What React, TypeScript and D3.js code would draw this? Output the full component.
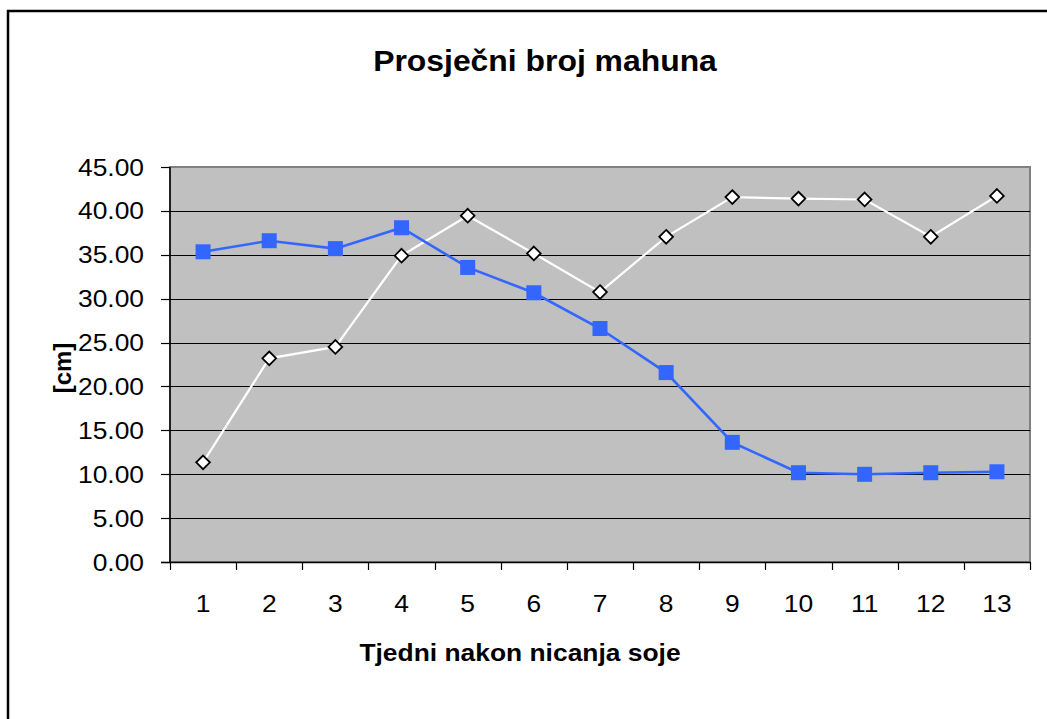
import { useEffect, useRef } from "react";
import * as d3 from "d3";

const weeks = ["1", "2", "3", "4", "5", "6", "7", "8", "9", "10", "11", "12", "13"];
const blueValues = [35.34, 36.6, 35.7, 38.08, 33.56, 30.67, 26.6, 21.58, 13.63, 10.17, 9.99, 10.17, 10.28];
const whiteValues = [11.35, 23.2, 24.5, 34.9, 39.45, 35.15, 30.75, 37.05, 41.57, 41.4, 41.3, 37.05, 41.7];
const yTicks = [0, 5, 10, 15, 20, 25, 30, 35, 40, 45];

const title = "Prosječni broj mahuna";
const xTitle = "Tjedni nakon nicanja soje";
const yTitle = "[cm]";

const App = () => {
  const ref = useRef<SVGSVGElement>(null);

  useEffect(() => {
    const width = 1047;
    const height = 719;
    const plot = { left: 170, right: 1030, top: 167, bottom: 562 };
    const font = "Arial, 'Liberation Sans', sans-serif";
    const stretch = 1.1; // the original is slightly wider than tall

    const svg = d3.select(ref.current).attr("width", width).attr("height", height);
    svg.selectAll("*").remove();

    // outer chart frame
    svg
      .append("rect")
      .attr("x", 8)
      .attr("y", 11)
      .attr("width", 1200)
      .attr("height", 900)
      .attr("fill", "#fff")
      .attr("stroke", "#000")
      .attr("stroke-width", 2.5);

    const xScale = d3.scaleBand().domain(weeks).range([plot.left, plot.right]).paddingInner(0).paddingOuter(0);
    const yScale = d3.scaleLinear().domain([0, 45]).range([plot.bottom, plot.top]);

    // plot background
    svg
      .append("rect")
      .attr("x", plot.left)
      .attr("y", plot.top)
      .attr("width", plot.right - plot.left)
      .attr("height", plot.bottom - plot.top)
      .attr("fill", "#c0c0c0")
      .attr("stroke", "#808080")
      .attr("stroke-width", 2);

    // grid lines
    svg
      .append("g")
      .selectAll("line")
      .data(yTicks.filter((d) => d > 0 && d < 45))
      .join("line")
      .attr("x1", plot.left)
      .attr("x2", plot.right)
      .attr("y1", (d) => Math.round(yScale(d)) + 0.5)
      .attr("y2", (d) => Math.round(yScale(d)) + 0.5)
      .attr("stroke", "#000")
      .attr("stroke-width", 1.2);

    // y axis line + ticks
    const yAxis = svg.append("g");
    yAxis
      .append("line")
      .attr("x1", plot.left)
      .attr("x2", plot.left)
      .attr("y1", plot.top)
      .attr("y2", plot.bottom)
      .attr("stroke", "#000")
      .attr("stroke-width", 1.5);
    yAxis
      .selectAll("line.tick")
      .data(yTicks)
      .join("line")
      .attr("class", "tick")
      .attr("x1", plot.left - 9)
      .attr("x2", plot.left)
      .attr("y1", (d) => Math.round(yScale(d)) + 0.5)
      .attr("y2", (d) => Math.round(yScale(d)) + 0.5)
      .attr("stroke", "#000")
      .attr("stroke-width", 1.2);
    yAxis
      .selectAll("text")
      .data(yTicks)
      .join("text")
      .attr("transform", (d) => `translate(144,${yScale(d) + 8.5}) scale(${stretch},1)`)
      .attr("text-anchor", "end")
      .style("font-family", font)
      .style("font-size", "24px")
      .attr("fill", "#000")
      .text((d) => d.toFixed(2));

    // x axis line + boundary ticks
    const xAxis = svg.append("g");
    xAxis
      .append("line")
      .attr("x1", plot.left - 9)
      .attr("x2", plot.right)
      .attr("y1", plot.bottom + 0.5)
      .attr("y2", plot.bottom + 0.5)
      .attr("stroke", "#000")
      .attr("stroke-width", 1.5);
    const bounds = weeks.map((w) => xScale(w) as number).concat([plot.right]);
    xAxis
      .selectAll("line.tick")
      .data(bounds)
      .join("line")
      .attr("class", "tick")
      .attr("x1", (d) => Math.round(d) + 0.5)
      .attr("x2", (d) => Math.round(d) + 0.5)
      .attr("y1", plot.bottom)
      .attr("y2", plot.bottom + 8)
      .attr("stroke", "#000")
      .attr("stroke-width", 1.2);
    xAxis
      .selectAll("text")
      .data(weeks)
      .join("text")
      .attr("transform", (d) => `translate(${(xScale(d) as number) + xScale.bandwidth() / 2},${612}) scale(${stretch},1)`)
      .attr("text-anchor", "middle")
      .style("font-family", font)
      .style("font-size", "24px")
      .attr("fill", "#000")
      .text((d) => d);

    const cx = (i: number) => (xScale(weeks[i]) as number) + xScale.bandwidth() / 2;
    const line = d3
      .line<number>()
      .x((_, i) => cx(i))
      .y((d) => yScale(d));

    // white series with diamonds
    svg
      .append("path")
      .datum(whiteValues)
      .attr("d", line)
      .attr("fill", "none")
      .attr("stroke", "#fff")
      .attr("stroke-width", 2.2);
    svg
      .append("g")
      .selectAll("path")
      .data(whiteValues)
      .join("path")
      .attr("d", d3.symbol(d3.symbolDiamond2, 120)())
      .attr("transform", (d, i) => `translate(${cx(i)},${yScale(d)})`)
      .attr("fill", "#fff")
      .attr("stroke", "#000")
      .attr("stroke-width", 1.8);

    // blue series with squares
    svg
      .append("path")
      .datum(blueValues)
      .attr("d", line)
      .attr("fill", "none")
      .attr("stroke", "#3366ff")
      .attr("stroke-width", 2.6);
    svg
      .append("g")
      .selectAll("rect")
      .data(blueValues)
      .join("rect")
      .attr("x", (d, i) => cx(i) - 7.5)
      .attr("y", (d) => yScale(d) - 7.5)
      .attr("width", 15)
      .attr("height", 15)
      .attr("fill", "#3366ff");

    // titles
    svg
      .append("text")
      .attr("transform", `translate(545,71) scale(${stretch},1)`)
      .attr("text-anchor", "middle")
      .style("font-family", font)
      .style("font-size", "29px")
      .style("font-weight", "bold")
      .text(title);

    svg
      .append("text")
      .attr("transform", `translate(520,661) scale(${stretch},1)`)
      .attr("text-anchor", "middle")
      .style("font-family", font)
      .style("font-size", "24px")
      .style("font-weight", "bold")
      .text(xTitle);

    svg
      .append("text")
      .attr("transform", `translate(71,368) rotate(-90)`)
      .attr("text-anchor", "middle")
      .style("font-family", font)
      .style("font-size", "24px")
      .style("font-weight", "bold")
      .text(yTitle);
  }, []);

  return <svg ref={ref} style={{ position: "absolute", left: 0, top: 0, display: "block" }} />;
};

export default App;
